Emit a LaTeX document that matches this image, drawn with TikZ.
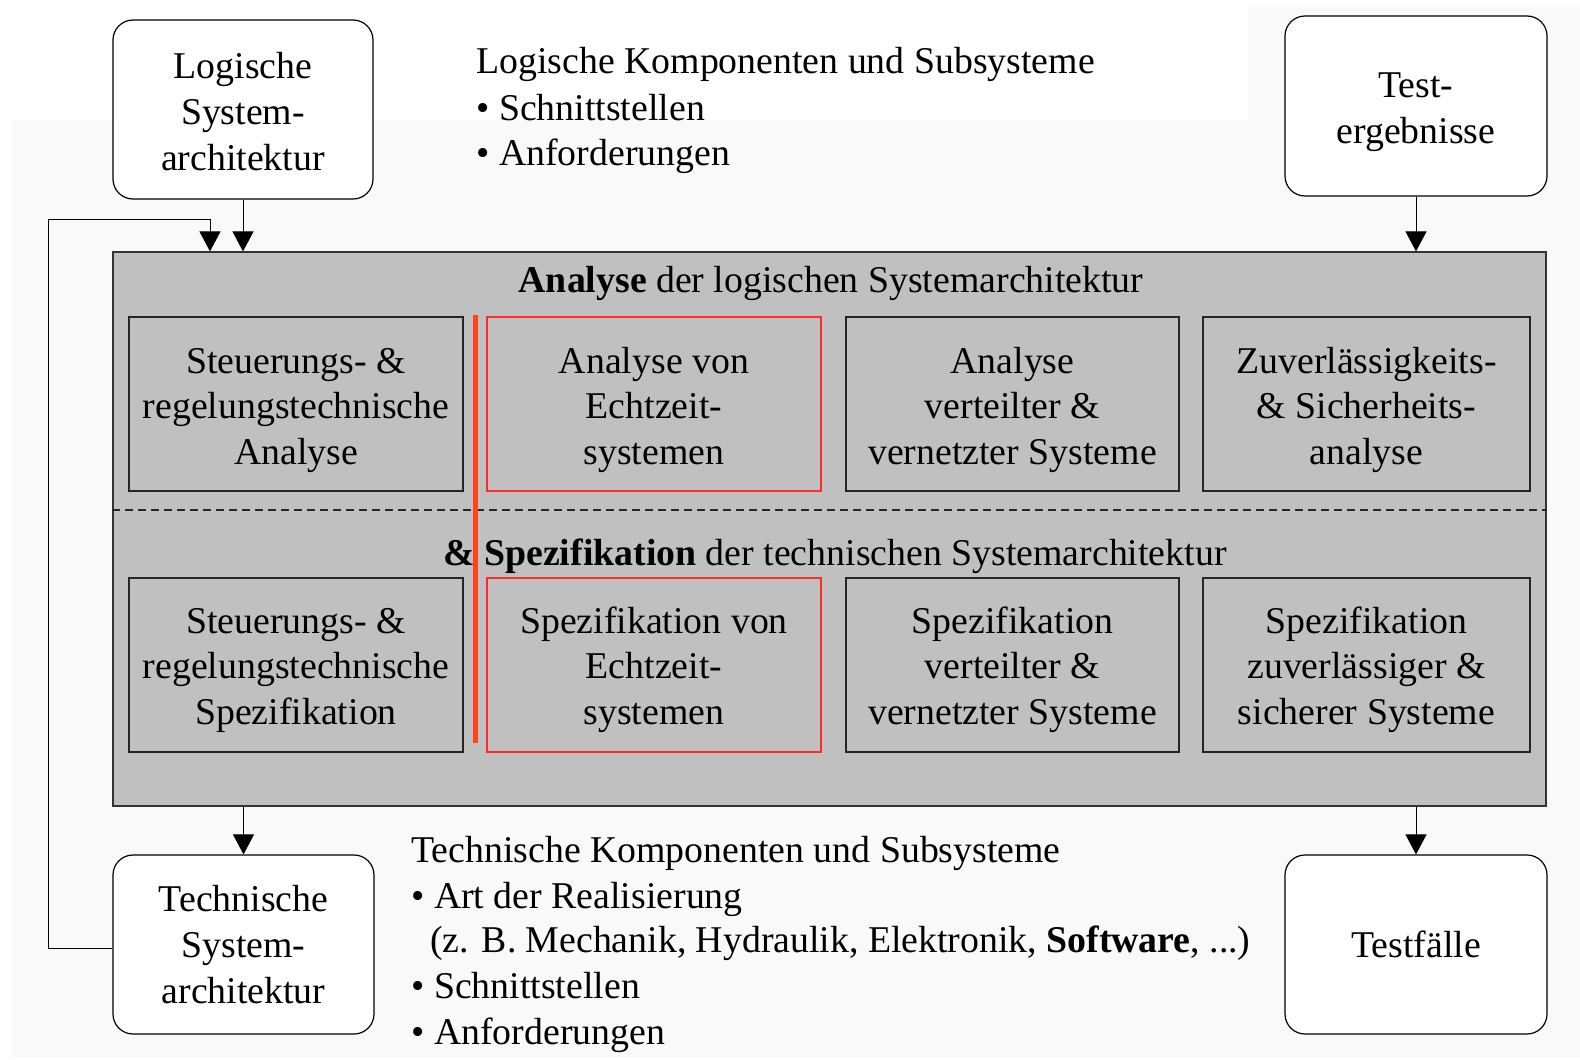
\documentclass[tikz,border=0pt]{standalone}
\usepackage{fontspec}
\setmainfont{Liberation Serif}
\usetikzlibrary{arrows.meta}
\definecolor{panelgray}{HTML}{C0C0C0}
\definecolor{haze}{HTML}{F9F9F9}
\definecolor{barred}{HTML}{FF4418}
\definecolor{boxred}{HTML}{FF2A2A}
% extra room above the first line of a box label
\newcommand{\topgap}[1]{\rule{0pt}{#1}}
\begin{document}
\begin{tikzpicture}[x=0.5pt,y=-0.5pt,
  txt/.style={font=\fontsize{18.9}{23}\selectfont},
  roundbox/.style={txt, draw=black, line width=0.6pt, fill=white,
    rounded corners=10pt, align=center, minimum width=130pt,
    minimum height=89.5pt, inner sep=0pt},
  subbox/.style={font=\fontsize{18.9}{22.6}\selectfont, draw=black!85,
    line width=0.8pt, align=center, minimum height=87pt, inner sep=0pt},
  hotbox/.style={subbox, draw=boxred, line width=0.6pt},
  flow/.style={line width=0.5pt, -{Triangle[width=10.5pt,length=10pt]}},
  listline/.style={txt, anchor=base west, inner sep=0pt},
]
\useasboundingbox (0,0) rectangle (1580,1060);
% faint backdrop
\fill[haze] (12,120) -- (1248,120) -- (1248,5) -- (1580,5) -- (1580,1057) -- (12,1057) -- cycle;

% outer artefacts
\node[roundbox] (L) at (243,109.5) {\topgap{15pt}Logische\\System-\\architektur};
\node[roundbox, minimum width=131pt, minimum height=90pt] (R) at (1416,106) {\topgap{19pt}Test-\\ergebnisse};
\node[roundbox, minimum width=130.5pt] (T) at (243.5,944.5) {Technische\\System-\\architektur};
\node[roundbox, minimum width=131pt] (F) at (1416,944.5) {Testfälle};

% central panel
\node[draw=black!80, line width=0.6pt, fill=panelgray, minimum width=716.5pt,
  minimum height=277pt, inner sep=0pt] (main) at (829.5,529) {};
\node[txt, anchor=base, inner sep=0pt] (t1) at (831,292)
  {\textbf{Analyse} der logischen Systemarchitektur};
\node[txt, anchor=base, inner sep=0pt] (t2) at (835,565)
  {\textbf{\& Spezifikation} der technischen Systemarchitektur};

% analysis row
\node[subbox, minimum width=167pt] (a1) at (296,404) {\topgap{19pt}Steuerungs- \&\\regelungstechnische\\Analyse};
\node[hotbox, minimum width=167pt] (a2) at (654,404) {\topgap{19pt}Analyse von\\Echtzeit-\\systemen};
\node[subbox, minimum width=166.5pt] (a3) at (1012.5,404) {\topgap{19pt}Analyse\\verteilter \&\\vernetzter Systeme};
\node[subbox, minimum width=163.5pt] (a4) at (1366.5,404) {\topgap{19pt}Zuverlässigkeits-\\\& Sicherheits-\\analyse};

% specification row
\node[subbox, minimum width=167pt] (s1) at (296,665) {\topgap{18pt}Steuerungs- \&\\regelungstechnische\\Spezifikation};
\node[hotbox, minimum width=167pt] (s2) at (654,665) {\topgap{18pt}Spezifikation von\\Echtzeit-\\systemen};
\node[subbox, minimum width=166.5pt] (s3) at (1012.5,665) {\topgap{18pt}Spezifikation\\verteilter \&\\vernetzter Systeme};
\node[subbox, minimum width=163.5pt] (s4) at (1366.5,665) {\topgap{18pt}Spezifikation\\zuverlässiger \&\\sicherer Systeme};

% divider between the two phases
\draw[black!85, line width=0.7pt, dash pattern=on 4pt off 2.5pt]
  (main.west |- 0,510) -- (main.east |- 0,510);

% red marker bar
\coordinate (bartop) at (475,315);
\coordinate (barbot) at (475,743);
\draw[barred, line width=2.5pt] (bartop) -- (barbot);

% inputs and outputs
\draw[flow] (L.south) -- (L.south |- main.north);
\draw[flow] (R.south) -- (R.south |- main.north);
\draw[flow] (T.north |- main.south) -- (T.north);
\draw[flow] (F.north |- main.south) -- (F.north);

% feedback loop from the technical architecture
\coordinate (fbx) at (48,219);
\coordinate (fbin) at (210,219);
\draw[flow] ([yshift=-2pt]T.west) -| (fbx) -- (fbin) -- (fbin |- main.north);

% annotations
\node[listline] (k1) at (476,73) {Logische Komponenten und Subsysteme};
\node[listline] (k2) at (476,120) {• Schnittstellen};
\node[listline] (k3) at (476,165) {• Anforderungen};

\node[listline] (m1) at (411,862) {Technische Komponenten und Subsysteme};
\node[listline] (m2) at (411,908) {• Art der Realisierung};
\node[listline] (m3) at (430,952) {(z. B. Mechanik, Hydraulik, Elektronik, \textbf{Software}, ...)};
\node[listline] (m4) at (411,998) {• Schnittstellen};
\node[listline] (m5) at (411,1044) {• Anforderungen};
\end{tikzpicture}
\end{document}
